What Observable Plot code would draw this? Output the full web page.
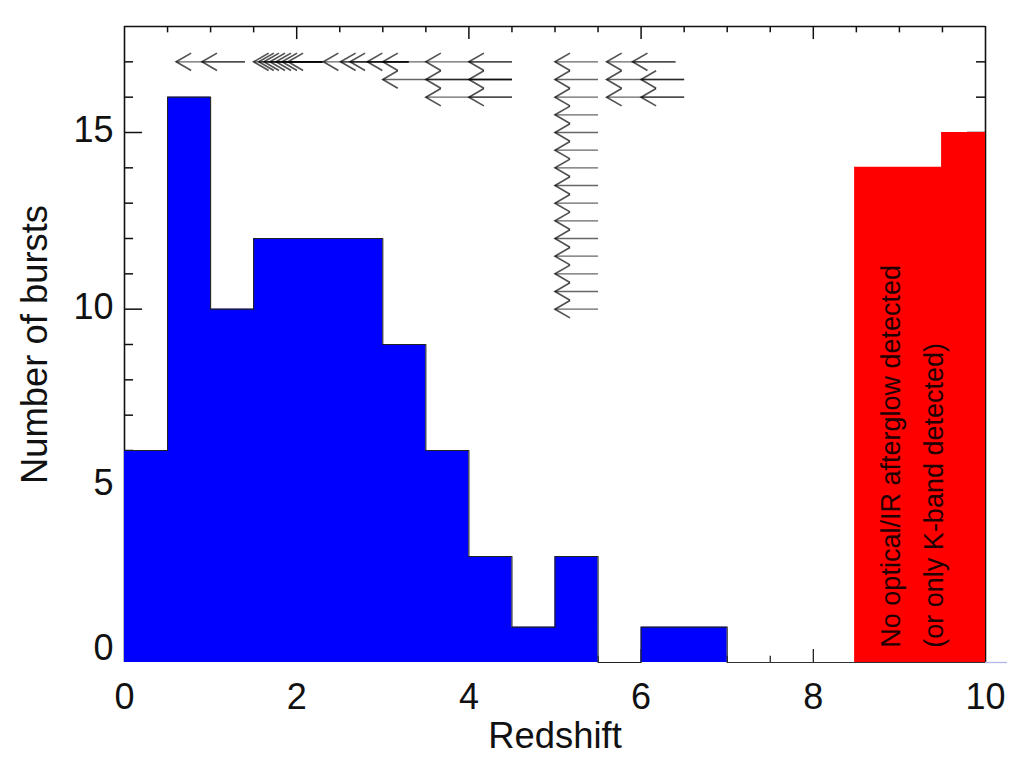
<!DOCTYPE html>
<html>
<head>
<meta charset="utf-8">
<style>html,body{margin:0;padding:0;background:#fff}svg{display:block}</style>
<script src="https://cdn.jsdelivr.net/npm/d3@7"></script>
<script src="https://cdn.jsdelivr.net/npm/@observablehq/plot@0.6"></script>
</head>
<body>
<div id="chart"></div>
<script>
// Histogram: step edges and counts
const blueEdges  = [0, 0.5, 1, 1.5, 2, 2.5, 3, 3.5, 4, 4.5, 5, 5.5, 6, 6.5, 7];
const blueCounts = [6, 16, 10, 12, 12, 12, 9, 6, 3, 1, 3, 0, 1, 1, 0];
const redEdges   = [8.48, 9.49, 10];
const redCounts  = [14.02, 15, 15];

// Upper limits: head redshift, tail redshift, level
const limitHeads = [0.6, 0.9, 1.5, 1.56, 1.62, 1.69, 1.76, 1.83, 1.9, 2.31, 2.51, 2.62, 2.82, 3.0, 3.5, 4.0, 5.0, 5.6, 5.9,
  3.0, 3.5, 4.0, 5.0, 5.6, 6.0,
  3.5, 4.0, 5.0, 5.6, 6.0,
  5, 5, 5, 5, 5, 5, 5, 5, 5, 5, 5, 5];
const limitTails = [1.4, 1.4, 2.3, 2.3, 2.3, 2.3, 2.3, 2.3, 2.3, 3.3, 3.3, 3.3, 3.3, 3.5, 4.5, 4.5, 5.5, 6.4, 6.4,
  4.5, 4.5, 4.5, 5.5, 6.5, 6.5,
  4.5, 4.5, 5.5, 6.5, 6.5,
  5.5, 5.5, 5.5, 5.5, 5.5, 5.5, 5.5, 5.5, 5.5, 5.5, 5.5, 5.5];
const limitLevels = [17, 17, 17, 17, 17, 17, 17, 17, 17, 17, 17, 17, 17, 17, 17, 17, 17, 17, 17,
  16.5, 16.5, 16.5, 16.5, 16.5, 16.5,
  16, 16, 16, 16, 16,
  15.5, 15, 14.5, 14, 13.5, 13, 12.5, 12, 11.5, 11, 10.5, 10];

// Ticks
const xMinor = [0.5, 1, 1.5, 2.5, 3, 3.5, 4.5, 5, 5.5, 6.5, 7, 7.5, 8.5, 9, 9.5];
const xMajor = [2, 4, 6, 8];
const xLabels = [0, 2, 4, 6, 8, 10];
const yMinor = [1, 2, 3, 4, 6, 7, 8, 9, 11, 12, 13, 14, 16, 17];
const yMajor = [5, 10, 15];
const yLabels = [5, 10, 15];

const blue = blueEdges.map((x, i) => ({x, y: blueCounts[i]}));
const red = redEdges.map((x, i) => ({x, y: redCounts[i]}));
const limits = limitHeads.map((h, i) => ({h, t: limitTails[i], y: limitLevels[i]}));

// Open chevron whose point sits on the datum, opening to the right
const chevron = {draw(ctx, size) {
  const r = Math.sqrt(size / Math.PI);
  ctx.moveTo(r, -r * 0.58);
  ctx.lineTo(0, 0);
  ctx.lineTo(r, r * 0.58);
}};

const font = "Liberation Sans, Arial, sans-serif";
const ink = "#111";
const tickW = 1.5;

const chart = Plot.plot({
  width: 1024,
  height: 768,
  marginLeft: 124,
  marginRight: 39,
  marginTop: 26,
  marginBottom: 106,
  style: {fontFamily: font, background: "#fff", color: ink},
  x: {domain: [0, 10], axis: null},
  y: {domain: [0, 18], axis: null},
  marks: [
    // frame
    Plot.ruleY([18], {x1: 0, x2: 10, stroke: ink, strokeWidth: 1.6}),
    Plot.ruleX([0, 10], {y1: 0, y2: 18, stroke: ink, strokeWidth: 1.6}),
    // ticks on all four sides
    Plot.ruleX(xMinor, {y1: 18, y2: 17.82, stroke: ink, strokeWidth: tickW}),
    Plot.ruleX(xMajor, {y1: 18, y2: 17.63, stroke: ink, strokeWidth: tickW}),
    Plot.ruleX(xMinor, {y1: 0, y2: 0.18, stroke: ink, strokeWidth: 1.2}),
    Plot.ruleX(xMajor, {y1: 0, y2: 0.37, stroke: ink, strokeWidth: 1.2}),
    Plot.ruleY(yMinor, {x1: 0, x2: 0.105, stroke: ink, strokeWidth: tickW}),
    Plot.ruleY(yMajor, {x1: 0, x2: 0.21, stroke: ink, strokeWidth: tickW}),
    Plot.ruleY(yMinor, {x1: 10, x2: 9.895, stroke: ink, strokeWidth: tickW}),
    Plot.ruleY(yMajor, {x1: 10, x2: 9.79, stroke: ink, strokeWidth: tickW}),
    // histogram fills
    Plot.areaY(blue, {x: "x", y: "y", curve: "step-after", fill: "#0000ff"}),
    Plot.areaY(red, {x: "x", y: "y", curve: "step-after", fill: "#ff0000"}),
    // histogram outline
    Plot.line(blue, {x: "x", y: "y", curve: "step-after", stroke: "#222", strokeWidth: 1.1}),
    Plot.ruleY([0], {x1: 7, x2: 10, stroke: "#333", strokeWidth: 1.1}),
    Plot.ruleY([0], {x1: 10, x2: 10.255, stroke: "#b4b4e6", strokeWidth: 1.3}),
    // upper limits
    Plot.link(limits, {x1: "h", x2: "t", y1: "y", y2: "y", stroke: "#000", strokeOpacity: 0.6, strokeWidth: 1.3}),
    Plot.dot(limits, {x: "h", y: "y", r: 15, symbol: chevron, fill: "none", stroke: "#000", strokeOpacity: 0.68, strokeWidth: 1.7}),
    // tick labels
    Plot.text(xLabels, {x: d => d, y: 0, dy: 35, text: d => String(d), fontSize: 36, fill: ink}),
    Plot.text(yLabels, {x: 0, y: d => d, dx: -11, dy: -2, text: d => String(d), textAnchor: "end", fontSize: 36, fill: ink}),
    Plot.text([0], {x: 0, y: d => d, dx: -11, dy: -14, text: d => String(d), textAnchor: "end", fontSize: 36, fill: ink}),
    // axis titles
    Plot.text(["Redshift"], {x: 5, y: 0, dy: 74, text: d => d, fontSize: 36.4, fill: ink}),
    Plot.text(["Number of bursts"], {x: 0, y: 9, dx: -89, dy: 0, rotate: -90, text: d => d, fontSize: 36.4, fill: ink}),
    // annotation
    Plot.text(["No optical/IR afterglow detected"], {x: 8.91, y: 0.42, rotate: -90, textAnchor: "start", text: d => d, fontSize: 27, fill: "#200000"}),
    Plot.text(["(or only K-band detected)"], {x: 9.41, y: 0.42, rotate: -90, textAnchor: "start", text: d => d, fontSize: 27, fill: "#200000"})
  ]
});
document.getElementById("chart").append(chart);
</script>
</body>
</html>
